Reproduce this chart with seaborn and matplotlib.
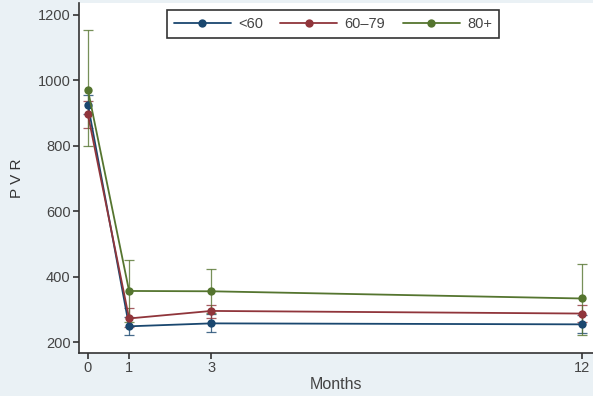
import numpy as np
import pandas as pd
import matplotlib
matplotlib.use("Agg")
import matplotlib.pyplot as plt
import seaborn as sns

# PVR by age group over follow-up months (mean with error bars)
months = [0, 1, 3, 12]
groups = ["<60", "60\u201379", "80+"]
pvr_lt60 = [925, 248, 257, 254]
pvr_60_79 = [895, 272, 295, 287]
pvr_80p = [970, 356, 355, 333]
lo_lt60 = [895, 222, 230, 227]
hi_lt60 = [955, 275, 285, 282]
lo_60_79 = [855, 245, 272, 262]
hi_60_79 = [935, 305, 314, 314]
lo_80p = [800, 262, 290, 222]
hi_80p = [1152, 452, 422, 438]

colors = ["#1a476f", "#90353b", "#55752f"]

rows = []
for g, v, lo, hi in zip(groups, [pvr_lt60, pvr_60_79, pvr_80p],
                        [lo_lt60, lo_60_79, lo_80p], [hi_lt60, hi_60_79, hi_80p]):
    for m, y, l, h in zip(months, v, lo, hi):
        rows.append({"month": m, "pvr": y, "lo": l, "hi": h, "group": g})
df = pd.DataFrame(rows)

sns.set_style("white")
plt.rcParams["font.family"] = ["Liberation Sans", "DejaVu Sans"]

fig = plt.figure(figsize=(5.93, 3.96), dpi=100)
fig.patch.set_facecolor("#eaf1f5")
ax = fig.add_axes([0.133, 0.109, 0.867, 0.883])
ax.set_facecolor("white")

for g, c in zip(groups, colors):
    sub = df[df["group"] == g]
    ax.errorbar(sub["month"], sub["pvr"],
                yerr=[sub["pvr"] - sub["lo"], sub["hi"] - sub["pvr"]],
                fmt="none", ecolor=c, elinewidth=0.9, capsize=3.5, capthick=0.9, alpha=0.8)

sns.lineplot(data=df, x="month", y="pvr", hue="group", palette=colors,
             marker="o", markersize=6, markeredgewidth=0, linewidth=1.3,
             ax=ax, errorbar=None)

ax.set_xlim(-0.22, 12.27)
ax.set_ylim(167, 1235)
ax.set_xticks(months)
ax.set_yticks([200, 400, 600, 800, 1000, 1200])
ax.tick_params(axis="both", direction="out", length=4, width=1.2, color="#333333",
               labelsize=10.5, labelcolor="#444444", left=True, bottom=True, pad=2)
for s in ["top", "right"]:
    ax.spines[s].set_visible(False)
for s in ["left", "bottom"]:
    ax.spines[s].set_color("#333333")
    ax.spines[s].set_linewidth(1.2)

ax.set_xlabel("Months", fontsize=11.5, color="#444444", labelpad=1)
ax.set_ylabel("P V R", fontsize=11, color="#333333", labelpad=10)

leg = ax.legend(loc="upper center", bbox_to_anchor=(0.494, 1.0), ncol=3, frameon=True,
                fontsize=10.5, handlelength=3.9, columnspacing=1.2, handletextpad=0.5,
                borderpad=0.45, fancybox=False, edgecolor="black", title=None)
leg.get_frame().set_linewidth(1.2)
for t in leg.get_texts():
    t.set_color("#444444")

fig.savefig("out.png", dpi=100, facecolor=fig.get_facecolor())
